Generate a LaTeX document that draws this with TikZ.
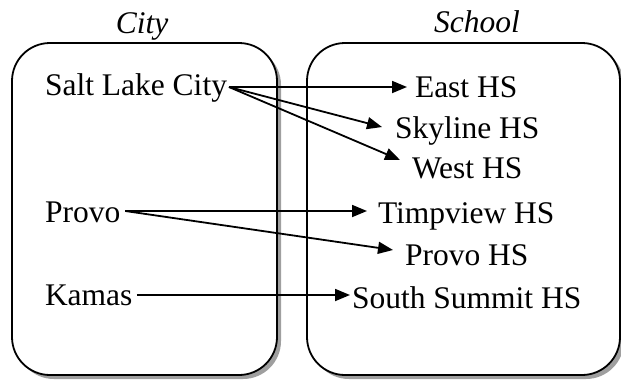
\documentclass[tikz,border=0pt]{standalone}
\usepackage{fontspec}
\setmainfont{Liberation Serif}
\usetikzlibrary{arrows.meta,shadows}
\begin{document}
\begin{tikzpicture}[x=1pt,y=-1pt,
  txt/.style={font=\fontsize{31.5}{36}\selectfont, inner sep=0pt, outer sep=0pt, anchor=base west},
  title/.style={font=\fontsize{31.5}{36}\selectfont\itshape, inner sep=0pt, anchor=base},
  panel/.style={draw, line width=1.8pt, rounded corners=38pt, fill=white, outer sep=0pt, inner sep=0pt,
    drop shadow={shadow xshift=4pt, shadow yshift=-4pt, fill=gray!75, opacity=1}},
  link/.style={line width=1.8pt, -{Triangle[length=15pt,width=12pt]}}]
\useasboundingbox (0,0) rectangle (621,381);
\node[panel, minimum width=265pt, minimum height=332pt, anchor=north west] (cityBox) at (12,43) {};
\node[panel, minimum width=313pt, minimum height=332pt, anchor=north west] (schoolBox) at (307,43) {};
\node[title] (cityT) at (142,33) {City};
\node[title] (schoolT) at (477,32) {School};
\node[txt] (slc) at (45,95) {Salt Lake City};
\node[txt] (provo) at (45,222) {Provo};
\node[txt] (kamas) at (45,305) {Kamas};
\node[txt] (east) at (415,97) {East HS};
\node[txt] (sky) at (395,138) {Skyline HS};
\node[txt] (west) at (412,178) {West HS};
\node[txt] (timp) at (378,223) {Timpview HS};
\node[txt] (provohs) at (405,265) {Provo HS};
\node[txt] (south) at (352,308) {South Summit HS};
\draw[link] ([shift={(2,-8)}]slc.base east) -- ([shift={(-8,-10)}]east.base west);
\draw[link] ([shift={(2,-8)}]slc.base east) -- ([shift={(-13,-11)}]sky.base west);
\draw[link] ([shift={(2,-8)}]slc.base east) -- ([shift={(-12,-18)}]west.base west);
\draw[link] ([shift={(5,-11)}]provo.base east) -- ([shift={(-11,-12)}]timp.base west);
\draw[link] ([shift={(5,-11)}]provo.base east) -- ([shift={(-12,-15)}]provohs.base west);
\draw[link] ([shift={(4.5,-10)}]kamas.base east) -- ([shift={(-2,-13)}]south.base west);
\end{tikzpicture}
\end{document}
